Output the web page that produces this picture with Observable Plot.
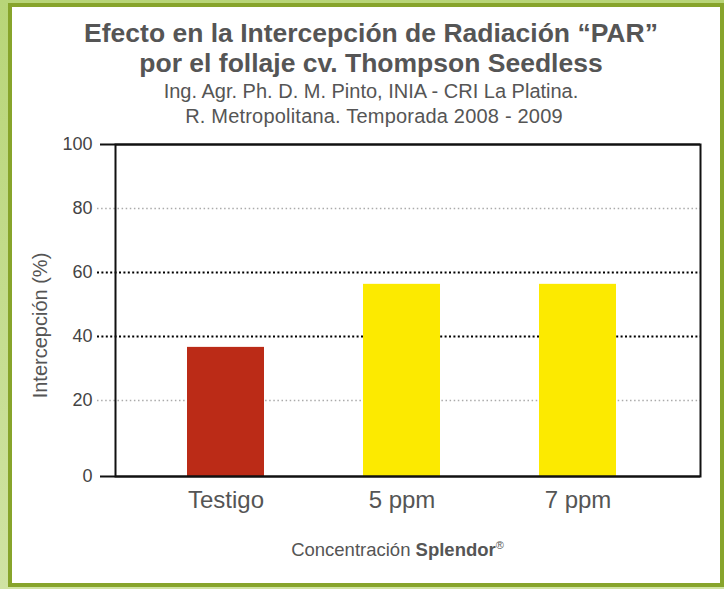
<!DOCTYPE html>
<html>
<head>
<meta charset="utf-8">
<script src="https://cdn.jsdelivr.net/npm/d3@7"></script>
<script src="https://cdn.jsdelivr.net/npm/@observablehq/plot@0.6"></script>
<style>
  html, body { margin:0; padding:0; }
  body { width:724px; height:589px; position:relative; overflow:hidden;
         background: linear-gradient(#b8d578, #d0e3a3);
         font-family: "Liberation Sans", Arial, Helvetica, sans-serif; color:#555; }
  #panel { position:absolute; left:8px; top:3px; width:708px; height:576px;
           border:4px solid #87a42b; background:#fff; }
  .t { position:absolute; left:8px; width:726px; text-align:center; white-space:nowrap; line-height:1; }
  .t1 { font-weight:bold; font-size:26.5px; color:#555; }
  .t2 { font-size:20px; color:#555; }
  #chart { position:absolute; left:0; top:130px; }
  #caption { position:absolute; left:97px; width:601px; top:541px; text-align:center; font-size:18.5px; line-height:1; color:#555; }
  #caption sup { font-size:11px; vertical-align: 7px; line-height:0; }
</style>
</head>
<body>
<div id="panel"></div>
<div class="t t1" style="top:20px;">Efecto en la Intercepción de Radiación “PAR”</div>
<div class="t t1" style="top:49.5px;">por el follaje cv. Thompson Seedless</div>
<div class="t t2" style="top:81px;">Ing. Agr. Ph. D. M. Pinto, INIA - CRI La Platina.</div>
<div class="t t2" style="top:106px; left:11px; letter-spacing:0.2px;">R. Metropolitana. Temporada 2008 - 2009</div>
<div id="chart"></div>
<div id="caption">Concentración <b>Splendor</b><sup>®</sup></div>
<script>
const categories = ["Testigo", "5 ppm", "7 ppm"];
const values = [36.6, 56.3, 56.3];
const barColors = ["#bb2b17", "#fcea00", "#fcea00"];
const yTicks = [0, 20, 40, 60, 80, 100];
const grayGrid = [20, 80];
const blackGrid = [40, 60];
const yLabel = "Intercepción (%)";

const data = categories.map((c, i) => ({cat: c, value: values[i], color: barColors[i]}));

const chart = Plot.plot({
  width: 724,
  height: 400,
  marginLeft: 97,
  marginRight: 24,
  marginTop: 14,
  marginBottom: 54,
  style: {background: "transparent", fontFamily: "'Liberation Sans', Arial, sans-serif", overflow: "visible"},
  x: {type: "band", domain: categories, range: [115, 688], paddingInner: 0.564, paddingOuter: 0.405, label: null},
  y: {type: "linear", domain: [0, 20, 100], range: [346, 270, 14], label: null},
  color: {type: "identity"},
  marks: [
    Plot.ruleY(grayGrid, {stroke: "#aaa", strokeWidth: 1.5, strokeDasharray: "1.5,2.6"}),
    Plot.ruleY(blackGrid, {stroke: "#000", strokeWidth: 2, strokeDasharray: "2,2.4"}),
    Plot.barY(data, {x: "cat", y: "value", fill: "color"}),
    Plot.ruleY([0, 100], {stroke: "#111", strokeWidth: 2, insetLeft: 3}),
    Plot.frame({stroke: "#111", strokeWidth: 2, insetLeft: 18}),
    Plot.axisY({ticks: yTicks, tickSize: 0, tickPadding: 5, fontSize: 18, fill: "#444", label: null}),
    Plot.axisX({tickSize: 0, tickPadding: 14, fontSize: 24, fill: "#555", label: null}),
    Plot.text([yLabel], {text: d => d, frameAnchor: "left", textAnchor: "middle", rotate: -90, dx: -57, dy: 15, fontSize: 20, fill: "#555"})
  ]
});
document.getElementById("chart").appendChild(chart);
</script>
</body>
</html>
